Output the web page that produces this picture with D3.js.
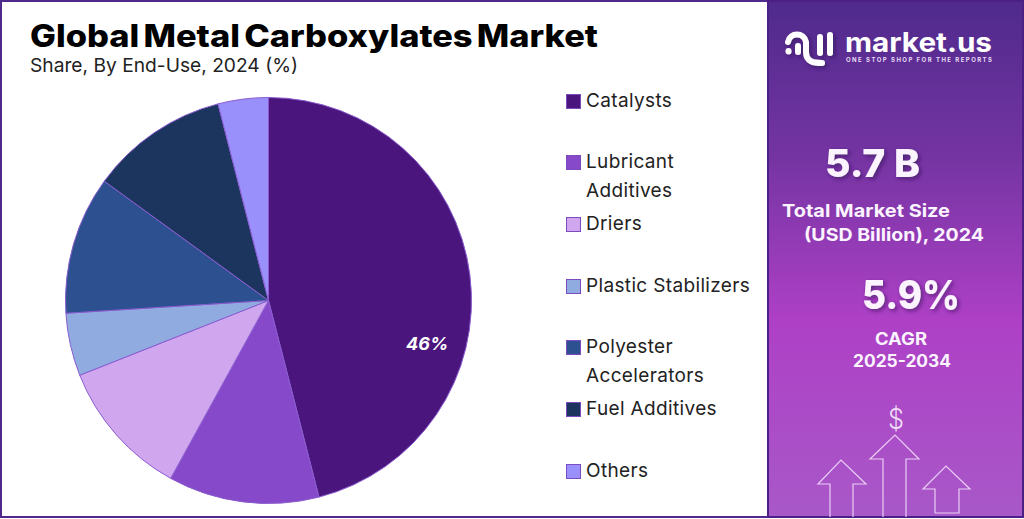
<!DOCTYPE html>
<html>
<head>
<meta charset="utf-8">
<script src="https://cdn.jsdelivr.net/npm/d3@7"></script>
<style>
html, body { margin: 0; padding: 0; background: #fff; }
svg { display: block; }
text { font-family: Inter, "Open Sans", sans-serif; }
</style>
</head>
<body>
<svg id="chart" width="1024" height="519"></svg>
<script>
var categories = ["Catalysts", "Lubricant Additives", "Driers", "Plastic Stabilizers",
                  "Polyester Accelerators", "Fuel Additives", "Others"];
var shares = [46, 12, 11, 5, 11, 11, 4];
var colors = ["#4a157c", "#8549c9", "#d0a6ee", "#8fabdf", "#2d5190", "#1b355f", "#9990fb"];
var legend_lines = [["Catalysts"], ["Lubricant", "Additives"], ["Driers"], ["Plastic Stabilizers"],
                    ["Polyester", "Accelerators"], ["Fuel Additives"], ["Others"]];
var legend_y = [101, 162, 224, 286, 347, 409, 471];

var svg = d3.select("#chart");
var defs = svg.append("defs");

var grad = defs.append("linearGradient").attr("id", "panel-bg")
    .attr("x1", 0).attr("y1", 0).attr("x2", 0).attr("y2", 1);
grad.append("stop").attr("offset", "0%").attr("stop-color", "#4f2a8c");
grad.append("stop").attr("offset", "30%").attr("stop-color", "#7434a2");
grad.append("stop").attr("offset", "62%").attr("stop-color", "#ae40c6");
grad.append("stop").attr("offset", "100%").attr("stop-color", "#a858c8");

var shadow = defs.append("filter").attr("id", "soft-shadow")
    .attr("x", "-20%").attr("y", "-20%").attr("width", "150%").attr("height", "160%");
shadow.append("feDropShadow").attr("dx", 2).attr("dy", 2).attr("stdDeviation", 2)
    .attr("flood-color", "#2c1050").attr("flood-opacity", 0.6);

// frame and right panel
svg.append("rect").attr("x", 1).attr("y", 1).attr("width", 1022).attr("height", 516)
    .attr("fill", "#fff").attr("stroke", "#4f2a8c").attr("stroke-width", 2);
svg.append("rect").attr("x", 768).attr("y", 1).attr("width", 255).attr("height", 516)
    .attr("fill", "url(#panel-bg)").attr("stroke", "#4a1f86").attr("stroke-width", 2);

// titles
svg.append("text").attr("x", 30).attr("y", 47)
    .attr("font-size", 31).attr("font-weight", 800).attr("fill", "#000")
    .attr("word-spacing", -3)
    .attr("textLength", 568).attr("lengthAdjust", "spacingAndGlyphs")
    .text("Global Metal Carboxylates Market");
svg.append("text").attr("x", 30).attr("y", 72)
    .attr("font-size", 19).attr("fill", "#222")
    .attr("textLength", 268).attr("lengthAdjust", "spacingAndGlyphs")
    .text("Share, By End-Use, 2024 (%)");

// pie
var pie = d3.pie().sort(null)(shares);
var arc = d3.arc().innerRadius(0).outerRadius(203);
var g_pie = svg.append("g").attr("transform", "translate(268.5,300.5)");
g_pie.selectAll("path")
    .data(pie)
    .enter()
    .append("path")
    .attr("d", arc)
    .attr("fill", function(d, i) { return colors[i]; })
    .attr("stroke", "#8a5cd0")
    .attr("stroke-width", 1);

// only the biggest slice carries a label
var label_arc = d3.arc().innerRadius(165).outerRadius(165);
var c = label_arc.centroid(pie[0]);
g_pie.append("text")
    .attr("x", c[0] - 5).attr("y", c[1] + 70)
    .attr("text-anchor", "middle")
    .attr("font-size", 18).attr("font-weight", 700).attr("font-style", "italic")
    .attr("fill", "#fff")
    .text(shares[0] + "%");

// legend
var legend = svg.append("g").selectAll("g")
    .data(categories)
    .enter()
    .append("g")
    .attr("transform", function(d, i) { return "translate(566," + legend_y[i] + ")"; });
legend.append("rect")
    .attr("x", 0.5).attr("y", -6.5).attr("width", 14).attr("height", 14)
    .attr("fill", function(d, i) { return colors[i]; })
    .attr("stroke", "#7a4cc0").attr("stroke-width", 1);
legend.each(function(d, i) {
    var g = d3.select(this);
    legend_lines[i].forEach(function(line, j) {
        g.append("text")
            .attr("x", 20).attr("y", 6 + j * 29)
            .attr("font-size", 19).attr("fill", "#222")
            .attr("font-family", "Lato, Inter, sans-serif")
            .attr("letter-spacing", 0.35)
            .text(line);
    });
});

// logo
var logo = svg.append("g").attr("filter", "url(#soft-shadow)")
    .attr("fill", "none").attr("stroke", "#fff").attr("stroke-linecap", "round")
    .attr("stroke-width", 6);
logo.append("path").attr("d", "M788.5,51 v0.5");
logo.append("path").attr("d", "M798,46 v6");
logo.append("path").attr("d", "M788,42 C790,32 804,32 806,42 L806,52 C806,62 814,63 822,63");
logo.append("path").attr("d", "M820,37 v16");
logo.append("path").attr("d", "M830,35 v18");

svg.append("text").attr("x", 845).attr("y", 52)
    .attr("font-size", 27).attr("font-weight", 700).attr("fill", "#fff")
    .attr("textLength", 147).attr("lengthAdjust", "spacingAndGlyphs")
    .text("market.us");
svg.append("text").attr("x", 846).attr("y", 62)
    .attr("font-size", 6).attr("font-weight", 700).attr("fill", "#e8dcf4")
    .attr("textLength", 146).attr("lengthAdjust", "spacing")
    .text("ONE STOP SHOP FOR THE REPORTS");

// key numbers
function panel_text(x, y, size, weight, str, width, use_shadow) {
    var t = svg.append("text").attr("x", x).attr("y", y)
        .attr("font-size", size).attr("font-weight", weight).attr("fill", "#fbf4ff")
        .text(str);
    if (width) t.attr("textLength", width).attr("lengthAdjust", "spacingAndGlyphs");
    if (use_shadow) t.attr("filter", "url(#soft-shadow)");
    return t;
}
panel_text(825, 177, 38, 800, "5.7 B", 95, true);
panel_text(782, 217, 18, 700, "Total Market Size", 168);
panel_text(804, 241, 18, 700, "(USD Billion), 2024", 180);
panel_text(862, 309, 39, 800, "5.9%", 98, true);
panel_text(875, 345, 17, 700, "CAGR", 52);
panel_text(853, 367, 17, 700, "2025-2034", 98);
panel_text(888, 429, 29, 300, "$", 16, false).attr("font-family", "Lato, sans-serif").attr("fill", "#f0dcf8");

// arrows
var arrow_line = d3.line();
var arrows = [
    [[830, 517], [830, 484], [818, 484], [841, 460], [866, 484], [853, 484], [853, 517]],
    [[883, 517], [883, 459], [870, 459], [895, 435], [919, 459], [906, 459], [906, 517]],
    [[935, 513], [935, 489], [923, 489], [946, 466], [970, 489], [959, 489], [959, 513], [935, 513]]
];
svg.append("g").selectAll("path")
    .data(arrows)
    .enter()
    .append("path")
    .attr("d", function(d) { return arrow_line(d); })
    .attr("fill", "none")
    .attr("stroke", "#eccdf5")
    .attr("stroke-width", 1.2);
</script>
</body>
</html>
